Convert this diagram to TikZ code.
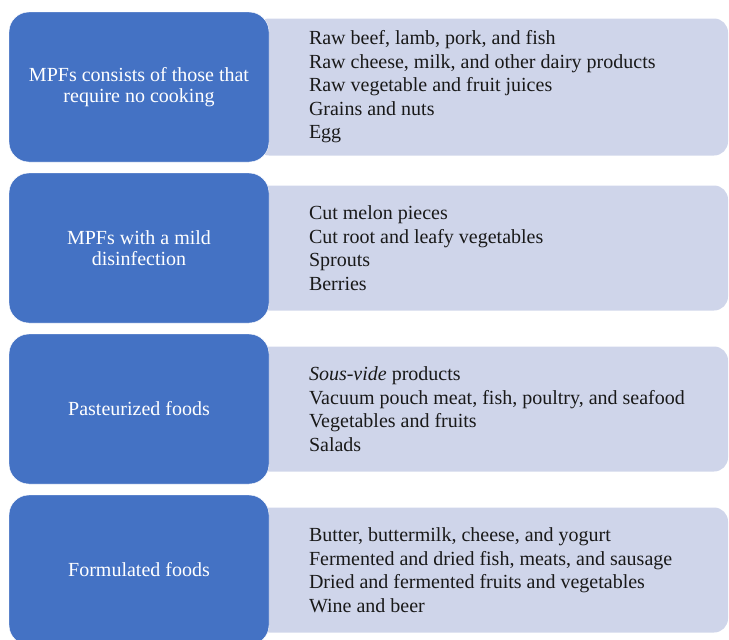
\documentclass[tikz,border=0pt]{standalone}
\usepackage{fontspec}
\setmainfont{Liberation Serif}
\usetikzlibrary{positioning,backgrounds}
\definecolor{mpfblue}{HTML}{4472C4}
\definecolor{mpflav}{HTML}{CFD5EA}
\tikzset{
  boxnode/.style = {inner sep=0pt, outer sep=0pt},
  cat_b/.style = {boxnode, rounded corners=20pt, fill=mpfblue, draw=white, thin, minimum width=260pt, minimum height=150pt, text=white, align=center, font=\fontsize{20}{21}\selectfont},
  lst_g/.style = {boxnode, rounded corners=14pt, fill=mpflav, minimum width=473pt, minimum height=125pt},
  lst_t/.style = {boxnode, align=left, text=black!90, font=\fontsize{20}{23.5}\selectfont}
}
\begin{document}
\begin{tikzpicture}[x=1pt, y=1pt]
\useasboundingbox (0,0) rectangle (729,-640);
\node [cat_b] (b1) at (139,-87) {MPFs consists of those that\\require no cooking};
\node [cat_b, below=11pt of b1] (b2) {MPFs with a mild\\disinfection};
\node [cat_b, below=11pt of b2] (b3) {Pasteurized foods};
\node [cat_b, below=11pt of b3] (b4) {Formulated foods};
\begin{scope}[on background layer]
	\node [lst_g, minimum height=137pt, right=-14pt of b1] (g1) {};
	\node [lst_g, right=-14pt of b2] (g2) {};
	\node [lst_g, right=-14pt of b3] (g3) {};
	\node [lst_g, right=-14pt of b4] (g4) {};
\end{scope}
\node [lst_t, right=40pt of b1] (t1) {Raw beef, lamb, pork, and fish\\Raw cheese, milk, and other dairy products\\Raw vegetable and fruit juices\\Grains and nuts\\Egg};
\node [lst_t, right=40pt of b2] (t2) {Cut melon pieces\\Cut root and leafy vegetables\\Sprouts\\Berries};
\node [lst_t, right=40pt of b3] (t3) {\textit{Sous-vide} products\\Vacuum pouch meat, fish, poultry, and seafood\\Vegetables and fruits\\Salads};
\node [lst_t, right=40pt of b4] (t4) {Butter, buttermilk, cheese, and yogurt\\Fermented and dried fish, meats, and sausage\\Dried and fermented fruits and vegetables\\Wine and beer};
\end{tikzpicture}
\end{document}
